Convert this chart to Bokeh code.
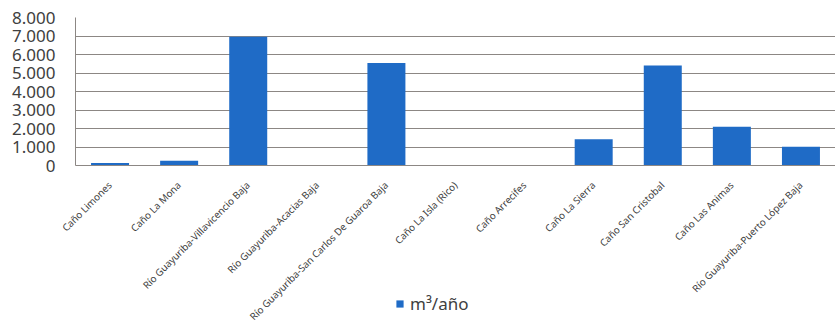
import math
from bokeh.plotting import figure
from bokeh.layouts import column
from bokeh.models import ColumnDataSource, FactorRange, FixedTicker, Legend, LegendItem
from bokeh.embed import file_html
from bokeh.resources import INLINE

categories = [
    "Caño Limones",
    "Caño La Mona",
    "Río Guayuriba-Villavicencio Baja",
    "Río Guayuriba-Acacias Baja",
    "Río Guayuriba-San Carlos De Guaroa Baja",
    "Caño La Isla (Rico)",
    "Caño Arrecifes",
    "Caño La Sierra",
    "Caño San Cristobal",
    "Caño Las Animas",
    "Río Guayuriba-Puerto López Baja",
]
values = [130, 260, 6960, 30, 5540, 0, 0, 1420, 5400, 2090, 1020]
series_name = "m³/año"
y_ticks = [0, 1000, 2000, 3000, 4000, 5000, 6000, 7000, 8000]
y_tick_labels = ["0", "1.000", "2.000", "3.000", "4.000", "5.000", "6.000", "7.000", "8.000"]

BLUE = "#1f6bc6"
GRID = "#8c8784"
TXT = "#404040"
FONT = "Noto Sans"

src = ColumnDataSource(dict(cat=categories, val=values))

p = figure(
    x_range=FactorRange(factors=categories, range_padding=0),
    y_range=(0, 8000),
    width=835, height=335,
    output_backend="svg", toolbar_location=None,
    min_border_left=75, min_border_right=0, min_border_top=17, min_border_bottom=170,
)
p.outline_line_color = None
p.background_fill_color = "white"

r = p.vbar(x="cat", top="val", width=0.55, source=src, fill_color=BLUE, line_color=None)

# y axis
p.yaxis.ticker = FixedTicker(ticks=y_ticks)
p.yaxis.major_label_overrides = {t: l for t, l in zip(y_ticks, y_tick_labels)}
p.yaxis.major_label_text_font = FONT
p.yaxis.major_label_text_font_size = "17px"
p.yaxis.major_label_text_color = TXT
p.yaxis.major_tick_line_color = None
p.yaxis.minor_tick_line_color = None
p.yaxis.major_label_standoff = 14
p.yaxis.axis_line_color = GRID

# x axis
p.xaxis.major_label_orientation = math.pi / 4
p.xaxis.major_label_text_font = FONT
p.xaxis.major_label_text_font_size = "9.8px"
p.xaxis.major_label_text_color = TXT
p.xaxis.major_tick_line_color = None
p.xaxis.minor_tick_line_color = None
p.xaxis.major_label_standoff = 12
p.xaxis.axis_line_color = GRID

p.xgrid.grid_line_color = None
p.ygrid.grid_line_color = GRID
p.ygrid.grid_line_width = 1

# transparent strip laid over the bottom of the chart, holding the legend
p2 = figure(
    x_range=p.x_range, y_range=p.y_range,
    width=835, height=30,
    output_backend="svg", toolbar_location=None,
    min_border=0, margin=(-45, 0, 0, 0),
)
p2.axis.visible = False
p2.grid.visible = False
p2.outline_line_color = None
p2.background_fill_alpha = 0
p2.border_fill_alpha = 0
r2 = p2.vbar(x="cat", top="val", width=0.55, source=src, fill_color=BLUE,
             line_color=None, visible=False)

legend = Legend(
    items=[LegendItem(label=series_name, renderers=[r2])],
    location=(320, 5),
    orientation="horizontal",
    glyph_width=9, glyph_height=9,
    label_text_font=FONT, label_text_font_size="17px", label_text_color=TXT,
    label_standoff=6, padding=0, margin=0,
    border_line_color=None, background_fill_alpha=0,
    inactive_fill_alpha=0,
)
p2.add_layout(legend)

layout = column(p, p2, spacing=0)
open("out.html", "w").write(file_html(layout, INLINE))
